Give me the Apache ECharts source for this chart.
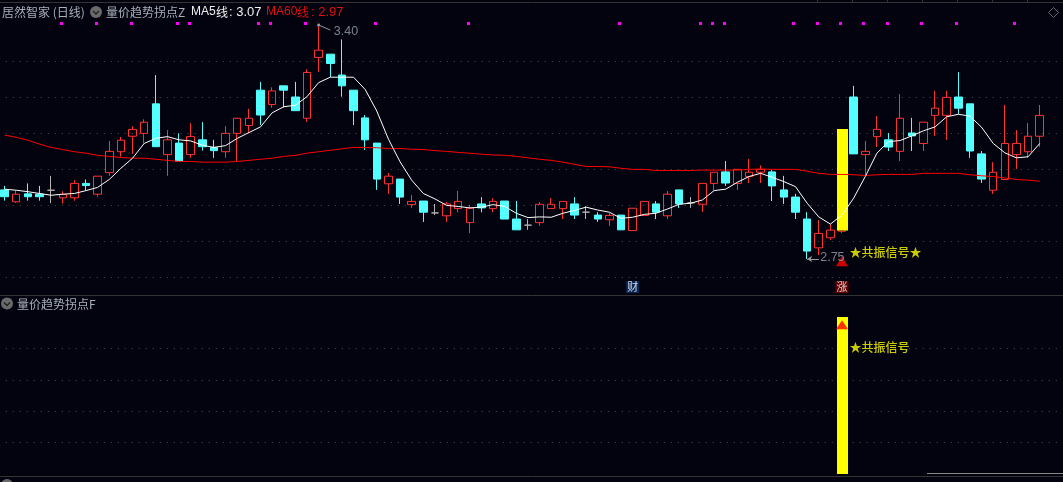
<!DOCTYPE html>
<html><head><meta charset="utf-8">
<style>html,body{margin:0;padding:0;background:#02030e;overflow:hidden}#c{width:1063px;height:482px}</style>
<script src="https://cdn.jsdelivr.net/npm/echarts@6/dist/echarts.min.js"></script>
</head><body><div id="c"></div>
<script>
const openP=[2.942,2.909,2.931,2.930,2.941,2.920,2.920,2.960,2.930,2.990,3.048,3.091,3.099,3.181,3.040,3.072,3.040,3.081,3.060,3.048,
3.099,3.121,3.219,3.179,3.231,3.200,3.141,3.310,3.319,3.261,3.219,3.142,3.072,2.959,2.972,2.901,2.911,2.878,2.870,2.890,
2.851,2.903,2.890,2.911,2.861,2.844,2.851,2.890,2.890,2.903,2.880,2.872,2.859,2.872,2.829,2.871,2.903,2.870,2.942,2.906,
2.902,2.960,2.992,2.960,2.979,2.991,2.992,2.942,2.922,2.861,2.781,2.809,2.827,3.200,3.040,3.090,3.081,3.049,3.100,3.071,
3.149,3.149,3.200,3.181,3.042,2.941,2.971,3.040,3.048,3.091];
const closeP=[2.923,2.930,2.923,2.923,2.941,2.929,2.960,2.954,2.980,3.049,3.080,3.110,3.130,3.062,3.081,3.022,3.090,3.062,3.051,3.099,
3.141,3.141,3.150,3.217,3.219,3.162,3.268,3.330,3.293,3.231,3.162,3.081,2.972,2.980,2.922,2.910,2.880,2.878,2.903,2.910,
2.891,2.892,2.910,2.861,2.831,2.844,2.902,2.902,2.910,2.872,2.880,2.861,2.871,2.831,2.891,2.910,2.880,2.930,2.903,2.906,
2.960,2.991,2.961,2.999,2.991,2.999,2.953,2.922,2.880,2.772,2.821,2.830,3.088,3.042,3.049,3.110,3.061,3.141,3.092,3.130,
3.169,3.199,3.169,3.050,2.972,2.991,3.071,3.071,3.091,3.149];
const lowP=[2.912,2.906,2.912,2.912,2.905,2.904,2.912,2.941,2.923,2.981,3.034,3.042,3.071,3.062,2.981,3.022,3.031,3.051,3.031,3.031,
3.022,3.099,3.122,3.170,3.171,3.162,3.131,3.270,3.255,3.201,3.122,3.053,2.942,2.931,2.903,2.892,2.853,2.872,2.853,2.880,
2.822,2.880,2.880,2.861,2.831,2.831,2.842,2.890,2.861,2.861,2.861,2.853,2.842,2.831,2.829,2.871,2.861,2.861,2.892,2.892,
2.881,2.942,2.953,2.942,2.961,2.961,2.911,2.903,2.861,2.750,2.761,2.803,2.822,3.042,2.981,3.061,3.050,3.022,3.050,3.050,
3.092,3.081,3.153,3.031,2.961,2.931,2.971,3.000,3.031,3.061];
const highP=[2.953,2.940,2.960,2.953,2.981,2.938,2.969,2.971,2.980,3.078,3.089,3.119,3.138,3.261,3.108,3.099,3.127,3.130,3.081,3.119,
3.141,3.167,3.242,3.227,3.231,3.242,3.277,3.400,3.319,3.360,3.219,3.150,3.072,2.989,2.972,2.928,2.911,2.903,2.908,2.939,
2.900,2.922,2.919,2.911,2.911,2.861,2.908,2.919,2.910,2.922,2.897,2.880,2.878,2.872,2.891,2.910,2.911,2.939,2.942,2.922,
2.960,2.991,3.022,2.999,3.028,3.010,2.997,2.981,2.931,2.880,2.858,2.847,3.088,3.231,3.078,3.147,3.100,3.208,3.142,3.130,
3.217,3.217,3.269,3.181,3.050,3.019,3.178,3.108,3.128,3.178];
const ma5=[2.944,2.941,2.937,2.932,2.927,2.930,2.932,2.940,2.949,2.971,3.002,3.030,3.071,3.085,3.090,3.081,3.078,3.066,3.060,3.065,
3.085,3.101,3.117,3.156,3.173,3.177,3.201,3.240,3.255,3.255,3.255,3.221,3.161,3.083,3.020,2.969,2.932,2.917,2.899,2.896,
2.892,2.894,2.901,2.896,2.877,2.865,2.867,2.866,2.877,2.885,2.894,2.886,2.880,2.863,2.866,2.874,2.877,2.889,2.902,2.905,
2.914,2.940,2.944,2.963,2.979,2.988,2.977,2.965,2.951,2.905,2.867,2.847,2.872,2.919,2.979,3.044,3.076,3.079,3.092,3.106,
3.117,3.145,3.152,3.147,3.116,3.071,3.045,3.031,3.034,3.071];
const ma60=[3.094,3.088,3.080,3.069,3.060,3.054,3.048,3.044,3.038,3.035,3.032,3.030,3.030,3.027,3.024,3.021,3.021,3.019,3.019,3.019,
3.021,3.024,3.027,3.030,3.035,3.038,3.044,3.048,3.052,3.056,3.060,3.060,3.059,3.057,3.057,3.055,3.054,3.051,3.049,3.046,
3.044,3.041,3.039,3.038,3.035,3.031,3.027,3.024,3.019,3.013,3.007,3.007,3.006,3.002,2.999,2.999,2.996,2.996,2.996,2.996,
2.997,2.997,2.997,2.997,2.999,3.000,2.999,2.999,2.999,2.994,2.988,2.985,2.985,2.984,2.982,2.984,2.985,2.985,2.985,2.988,
2.988,2.988,2.988,2.984,2.981,2.979,2.975,2.971,2.969,2.966];
const dotIndex=[5,8,11,15,16,22,23,26,32,40,53,60,61,62,68,70,72,74,76,79,82,87];
const gridPrices=[2.7,2.8,2.9,3.0,3.1,3.2,3.3];
const gridSignal=[0.2,0.4,0.6,0.8];
const categories=Array.from({length:92},(_,i)=>String(i));
const signalIndex=72;
const signalRangeMain=[2.829,3.111];
const signalRangeSub=[0,1];

const chart=echarts.init(document.getElementById('c'),null,{renderer:'canvas'});
const FONT='"Noto Sans CJK SC","Noto Sans",sans-serif';
const LATIN='"Liberation Sans",sans-serif';
const BG='#02030e',RED='#ff3232',CYAN='#54ffff',YEL='#ffff00';

function barSeries(name,ax,range){return {name,type:'custom',xAxisIndex:ax,yAxisIndex:ax,z:3,clip:false,
 encode:{x:0,y:[1,2]},data:[[signalIndex,range[0],range[1]]],
 renderItem(p,api){const a=api.coord([api.value(0),api.value(1)]),b=api.coord([api.value(0),api.value(2)]);
  return {type:'rect',shape:{x:Math.round(a[0])-5,y:b[1],width:11,height:a[1]-b[1]},style:{fill:YEL}};}};}
function textSeries(ax,x,y,text,color,pos,dist,extra){return {type:'scatter',xAxisIndex:ax,yAxisIndex:ax,z:8,clip:false,
 symbolSize:1,itemStyle:{color:'transparent'},silent:true,data:[[x,y]],
 label:Object.assign({show:true,position:pos,distance:dist,formatter:text,color,fontFamily:FONT,fontSize:12},extra||{})};}

const hdr=(x,y,text,fill,size,fam)=>({type:'text',x,y,style:{text,fill,font:(size||12)+'px '+(fam||FONT),textVerticalAlign:'middle'},z:20});
const circ=(cx,cy)=>[{type:'circle',shape:{cx,cy,r:6},style:{fill:'#6a6a6a'},z:20},
 {type:'polyline',shape:{points:[[cx-3,cy-1],[cx,cy+2],[cx+3,cy-1]]},style:{stroke:'#222',lineWidth:1.4,fill:null},z:21}];
const hline=(x1,x2,y,c)=>({type:'line',shape:{x1,y1:y,x2,y2:y},style:{stroke:c,lineWidth:1},z:1});
const tick=x=>({type:'line',shape:{x1:x,y1:0,x2:x,y2:3},style:{stroke:'#333333',lineWidth:1},z:1});

chart.setOption({
 animation:false,backgroundColor:BG,
 grid:[{left:-1.2,top:7,width:1070,height:288,outerBoundsMode:'none'},{left:-1.2,top:317,width:1070,height:157,outerBoundsMode:'none'}],
 xAxis:[0,1].map(g=>({type:'category',gridIndex:g,data:categories,show:false,boundaryGap:true})),
 yAxis:[
  {type:'value',gridIndex:0,min:2.65,max:3.45,axisLine:{show:false},axisLabel:{show:false},
   axisTick:{show:false,customValues:gridPrices},splitLine:{show:true,lineStyle:{color:'#4c4c4c',type:[1,6],width:1}}},
  {type:'value',gridIndex:1,min:0,max:1,axisLine:{show:false},axisLabel:{show:false},
   axisTick:{show:false,customValues:gridSignal},splitLine:{show:true,lineStyle:{color:'#4c4c4c',type:[1,6],width:1}}}
 ],
 series:[
  {name:'K',type:'candlestick',xAxisIndex:0,yAxisIndex:0,barWidth:8,z:2,
   data:openP.map((o,i)=>[o,closeP[i],lowP[i],highP[i]]),
   itemStyle:{color:'transparent',color0:CYAN,borderColor:RED,borderColor0:CYAN,borderColorDoji:'#b4b4b4',borderWidth:1}},
  barSeries('共振',0,signalRangeMain),
  barSeries('共振F',1,signalRangeSub),
  {name:'MA60',type:'line',xAxisIndex:0,yAxisIndex:0,data:ma60,showSymbol:false,z:4,lineStyle:{color:'#ff0000',width:1}},
  {name:'MA5',type:'line',xAxisIndex:0,yAxisIndex:0,data:ma5,showSymbol:false,z:5,lineStyle:{color:'#ffffff',width:1}},
  {type:'custom',xAxisIndex:0,yAxisIndex:0,z:6,clip:false,encode:{x:0,y:1},data:dotIndex.map(i=>[i,3.405]),
   renderItem(p,api){const c=api.coord([api.value(0),api.value(1)]);
    return {type:'rect',shape:{x:Math.round(c[0])-3,y:Math.round(c[1])-1,width:3,height:3},style:{fill:'#ff00ff'}};}},
  {type:'scatter',xAxisIndex:0,yAxisIndex:0,z:7,symbol:'triangle',symbolSize:[12,10],itemStyle:{color:'#ff0000'},data:[[signalIndex,2.744]]},
  {type:'scatter',xAxisIndex:1,yAxisIndex:1,z:7,symbol:'triangle',symbolSize:[12,9],itemStyle:{color:'#ff0000'},data:[[signalIndex,0.95]]},
  {type:'line',xAxisIndex:0,yAxisIndex:0,z:6,showSymbol:false,symbol:'none',lineStyle:{color:'#9a9a9a',width:1},
   data:[],
   markLine:{silent:true,animation:false,label:{show:false},
    data:[
     [{coord:[27,3.40],symbol:'circle',symbolSize:3,lineStyle:{color:'#9a9a9a',width:1,type:'solid'}},{coord:[28,3.386],symbol:'none'}],
     [{coord:[69,2.75],symbol:'arrow',symbolSize:5,lineStyle:{color:'#9a9a9a',width:1,type:'solid'}},{coord:[70,2.75],symbol:'none'}]
    ]}},
  textSeries(0,28,3.382,'3.40','#9aa3ad','right',3,{fontSize:12.5,fontFamily:LATIN}),
  textSeries(0,70,2.755,'2.75','#9aa3ad','right',1,{fontSize:12.5,fontFamily:LATIN}),
  textSeries(0,signalIndex,2.767,'★共振信号★',YEL,'right',7,{fontWeight:500}),
  textSeries(1,signalIndex,0.805,'★共振信号',YEL,'right',7,{fontWeight:500}),
  textSeries(0,54,2.672,'财','#ffffff','inside',0,{backgroundColor:'#0a3068',fontSize:11,padding:[1,1,0,1]}),
  textSeries(0,signalIndex,2.672,'涨','#ffffff','inside',0,{backgroundColor:'#7a0000',fontSize:11,padding:[1,1,0,1]})
 ],
 graphic:{elements:[
  hline(0,1063,2.5,'#333333'),hline(0,1063,295.5,'#333333'),hline(0,1063,476.5,'#333333'),hline(927,1063,473.5,'#888888'),
  tick(817.5),tick(852.5),tick(887.5),tick(922.5),tick(957.5),tick(992.5),tick(1027.5),
  {type:'polygon',shape:{points:[[1053.5,7.5],[1058.5,12.5],[1053.5,17.5],[1048.5,12.5]]},style:{stroke:'#6a6a6a',fill:null,lineWidth:1},z:20},
  hdr(2,12,'居然智家 (日线)','#a8b0b8'),...circ(96,12),hdr(106,12,'量价趋势拐点Z','#a8b0b8'),
  hdr(191,12,'MA5','#f0f0f0',12,LATIN),hdr(216,12,'线','#f0f0f0'),hdr(229,12,': 3.07','#f0f0f0',13,LATIN),
  hdr(266,12,'MA60','#e01010',12,LATIN),hdr(297,12,'线','#e01010'),hdr(311,12,': 2.97','#e01010',13,LATIN),
  ...circ(7,303.5),hdr(17,304,'量价趋势拐点F','#a8b0b8'),
  ...circ(7,485),hdr(17,487,'MACD(12,26,9)','#a8b0b8',13,LATIN),hdr(109,487,'DIF: 0.03','#f0f0f0',13,LATIN),hdr(164,487,'DEA: 0.04','#ffff00',13,LATIN),hdr(223,487,'MACD: -0.02','#ff00ff',13,LATIN)
 ]}
});
</script></body></html>
